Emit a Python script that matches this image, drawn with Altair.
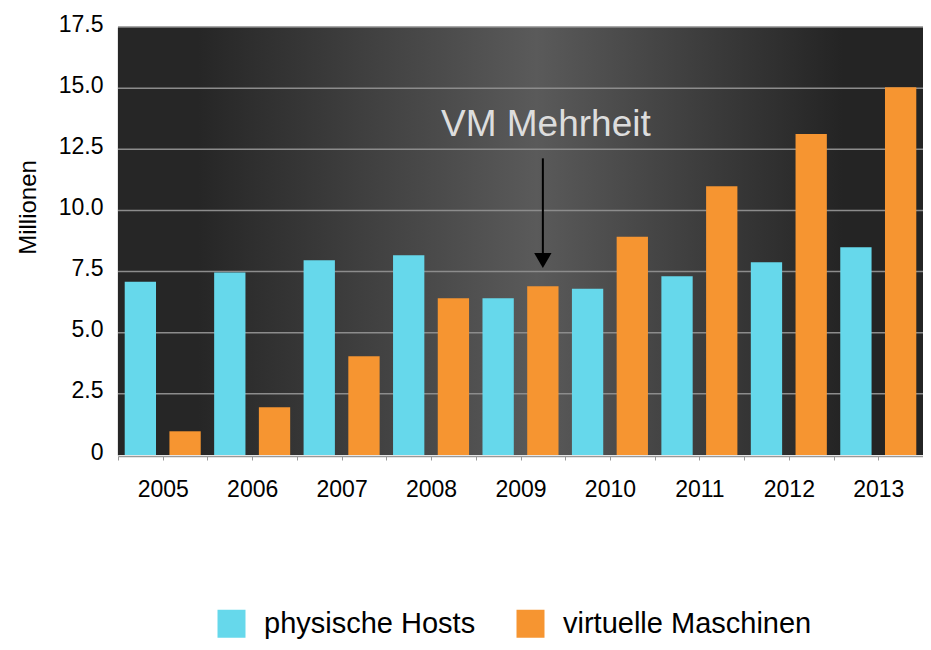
import altair as alt
import pandas as pd

# ---- data ----
years = ["2005", "2006", "2007", "2008", "2009", "2010", "2011", "2012", "2013"]
hosts = [7.08, 7.46, 7.96, 8.17, 6.41, 6.80, 7.31, 7.88, 8.49]
vms = [0.97, 1.95, 4.04, 6.41, 6.90, 8.92, 10.99, 13.12, 15.04]
series = ["physische Hosts", "virtuelle Maschinen"]
colors = ["#66D8EB", "#F69531"]
y_ticks = [0, 2.5, 5.0, 7.5, 10.0, 12.5, 15.0, 17.5]

annot_text = "VM Mehrheit"
annot_key = "2009-b"
annot_text_y = 13.5
arrow_from, arrow_to, arrow_head = 12.13, 8.1, 7.95

FONT = "Liberation Sans"
W, H = 805, 428

rows = []
for yr, h, v in zip(years, hosts, vms):
    rows.append({"key": yr + "-a", "year": yr, "series": series[0], "value": h})
    rows.append({"key": yr + "-b", "year": yr, "series": series[1], "value": v})
df = pd.DataFrame(rows)
keys = list(df["key"])

step = W / len(keys)

x_enc = alt.X(
    "key:N",
    sort=keys,
    scale=alt.Scale(domain=keys, paddingInner=0.3, paddingOuter=0.15),
    axis=alt.Axis(
        title=None,
        labelExpr="indexof(datum.value, '-b') > 0 ? slice(datum.value, 0, 4) : ''",
        labelAngle=0,
        labelFont=FONT,
        labelFontSize=23,
        labelColor="#000000",
        labelPadding=18,
        tickOffset=-step / 2,
        tickSize=4,
        tickColor="#999999",
        domainColor="#999999",
        domainWidth=1.5,
        offset=1,
        grid=False,
    ),
)
y_scale = alt.Scale(domain=[0, 17.5], nice=False, zero=True)

bg = alt.Chart(pd.DataFrame({"a": [0]})).mark_rect(
    color=alt.Gradient(
        gradient="linear",
        x1=0, x2=1, y1=0, y2=0,
        stops=[
            alt.GradientStop(offset=0, color="#262626"),
            alt.GradientStop(offset=0.1, color="#262626"),
            alt.GradientStop(offset=0.52, color="#5a5a5a"),
            alt.GradientStop(offset=0.9, color="#242424"),
            alt.GradientStop(offset=1, color="#242424"),
        ],
    )
).encode(x=alt.value(0), x2=alt.value(W), y=alt.value(0), y2=alt.value(H))

grid = alt.Chart(pd.DataFrame({"v": [t for t in y_ticks if t > 0]})).mark_rule(
    color="#8c8c8c", strokeWidth=1.5
).encode(y=alt.Y("v:Q", scale=y_scale))

bars = alt.Chart(df).mark_bar().encode(
    x=x_enc,
    y=alt.Y(
        "value:Q",
        scale=y_scale,
        axis=alt.Axis(
            values=y_ticks,
            labelExpr="datum.value == 0 ? '0' : format(datum.value, '.1f')",
            labelFont=FONT,
            labelFontSize=23,
            labelColor="#000000",
            labelPadding=15,
            labelOffset=-3,
            ticks=False,
            grid=False,
            domainColor="#999999",
            domainWidth=1.5,
            title="Millionen",
            titleFont=FONT,
            titleFontSize=24,
            titleFontWeight="normal",
            titleColor="#000000",
            titleX=-90,
            titleY=180,
            titleAlign="center",
            titleBaseline="middle",
            titleAngle=270,
        ),
    ),
    color=alt.Color(
        "series:N",
        scale=alt.Scale(domain=series, range=colors),
        legend=alt.Legend(
            title=None,
            orient="none",
            direction="horizontal",
            legendX=99,
            legendY=582,
            symbolType="square",
            symbolSize=784,
            symbolStrokeWidth=0,
            labelFont=FONT,
            labelFontSize=29,
            labelColor="#000000",
            labelOffset=18,
            columnPadding=40,
            labelLimit=400,
        ),
    ),
)

ann = pd.DataFrame({"key": [annot_key], "t": [annot_text_y], "a": [arrow_from],
                    "b": [arrow_to], "h": [arrow_head]})
text = alt.Chart(ann).mark_text(
    text=annot_text, font=FONT, fontSize=37, color="#dddddd", baseline="middle", dx=3
).encode(x=alt.X("key:N", sort=keys), y=alt.Y("t:Q", scale=y_scale))
arrow = alt.Chart(ann).mark_rule(color="#000000", strokeWidth=2).encode(
    x=alt.X("key:N", sort=keys), y=alt.Y("a:Q", scale=y_scale), y2="b:Q"
)
head = alt.Chart(ann).mark_point(
    shape="triangle-down", filled=True, color="#000000", size=300, opacity=1
).encode(x=alt.X("key:N", sort=keys), y=alt.Y("h:Q", scale=y_scale))

chart = alt.layer(bg, grid, bars, text, arrow, head).properties(
    width=W,
    height=H,
    autosize=alt.AutoSizeParams(type="none"),
    padding={"left": 110, "top": 19, "right": 0, "bottom": 187},
    background="#ffffff",
).configure_view(stroke=None)

chart.save("out.html", embed_options={"renderer": "svg", "actions": False})
